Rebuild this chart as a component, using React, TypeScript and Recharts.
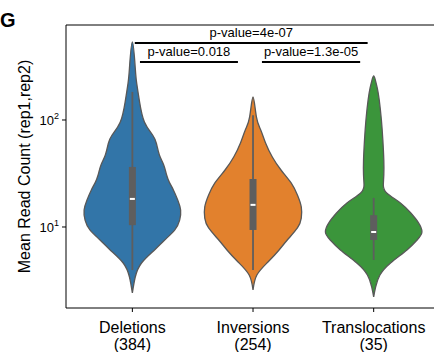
import React from 'react';
import { ComposedChart, Scatter, XAxis, YAxis, ReferenceLine } from 'recharts';

const categories = ['Deletions', 'Inversions', 'Translocations'];
const counts = [384, 254, 35];
const colors = ['#3275a8', '#e2812d', '#3b953b'];

// violin outlines: read count levels and relative density (1 = widest)
const deletionsLevels = [2.42, 3.41, 4.61, 6.1, 7.56, 9.4, 11.6, 14.4, 17.9, 22.2, 26, 30.6, 38, 47.1, 60, 72.4, 95.7, 147, 220, 306, 536];
const deletionsDensity = [0, 0.06, 0.19, 0.46, 0.67, 0.88, 0.98, 1, 0.94, 0.85, 0.77, 0.71, 0.65, 0.56, 0.5, 0.42, 0.25, 0.15, 0.09, 0.06, 0];
const inversionsLevels = [2.58, 3.56, 4.71, 6.1, 7.56, 9.79, 12.1, 15.4, 19.9, 25.8, 34.1, 45.1, 61, 80.7, 107, 164];
const inversionsDensity = [0, 0.08, 0.31, 0.54, 0.71, 0.92, 1, 1, 0.92, 0.79, 0.58, 0.4, 0.26, 0.16, 0.07, 0];
const translocationsLevels = [2.22, 2.75, 3.56, 4.61, 6.1, 7.56, 8.98, 11.1, 13.5, 16.7, 20.8, 24.7, 30.6, 42.3, 65, 100, 154, 198, 236, 258];
const translocationsDensity = [0, 0.04, 0.13, 0.35, 0.69, 0.9, 1, 0.92, 0.77, 0.56, 0.27, 0.2, 0.21, 0.21, 0.19, 0.16, 0.115, 0.075, 0.035, 0];

// inner box: whisker low, q1, median, q3, whisker high
const whiskerLow = [3.96, 3.96, 4.92];
const q1 = [10.4, 9.38, 7.56];
const medians = [18.3, 16.1, 8.98];
const q3 = [36.4, 28.1, 12.9];
const whiskerHigh = [183, 111, 18.7];

const comparisons = [
  { from: 0.02, to: 1.95, level: 524, label: 'p-value=4e-07' },
  { from: 0.063, to: 0.875, level: 348, label: 'p-value=0.018' },
  { from: 1.074, to: 1.888, level: 348, label: 'p-value=1.3e-05' },
];

const majorTicks = [10, 100];
const minorTicks = [2, 3, 4, 5, 6, 7, 8, 9, 20, 30, 40, 50, 60, 70, 80, 90, 200, 300, 400, 500, 600, 700];

const Y_MIN = 1.75;
const Y_MAX = 772;
const HALF = 0.4;
const EDGE = '#585858';
const BOX = '#5e5e5e';

const levels = [deletionsLevels, inversionsLevels, translocationsLevels];
const densities = [deletionsDensity, inversionsDensity, translocationsDensity];

const outline = (center: number, lv: number[], dens: number[]) => {
  const right = lv.map((v, i) => ({ x: center + dens[i] * HALF, y: v }));
  const left = lv.map((v, i) => ({ x: center - dens[i] * HALF, y: v })).reverse();
  return [...right, ...left.slice(1)];
};

const Hidden = () => <g />;

const XTick = (props: any) => {
  const { x, y, payload } = props;
  const i = payload.value;
  return (
    <text x={x} y={y} textAnchor="middle" fontSize={16} fill="#000">
      <tspan x={x} dy={19}>{categories[i]}</tspan>
      <tspan x={x} dy={17}>({counts[i]})</tspan>
    </text>
  );
};

const YTick = (props: any) => {
  const { x, y, payload } = props;
  const exp = Math.round(Math.log10(payload.value));
  return (
    <text x={x - 1} y={y + 4.6} textAnchor="end" fontSize={13} fill="#000">
      10<tspan dy={-6} fontSize={9}>{exp}</tspan>
    </text>
  );
};

const YLabel = (props: any) => {
  const { viewBox } = props;
  const cx = viewBox.x + 30;
  const cy = viewBox.y + viewBox.height / 2;
  return (
    <text x={cx} y={cy} transform={`rotate(-90, ${cx}, ${cy})`} textAnchor="middle" fontSize={16} fill="#000">
      Mean Read Count (rep1,rep2)
    </text>
  );
};

const Median = (props: any) => (
  <rect x={props.cx - 2.5} y={props.cy - 1} width={5} height={2} fill="#fff" />
);

export default function App() {
  return (
    <div style={{ position: 'absolute', left: 0, top: 0, width: 434, height: 352, overflow: 'hidden', fontFamily: "'Liberation Sans', Arial, sans-serif", background: '#fff' }}>
      <div style={{ position: 'absolute', left: 0, top: 10, fontSize: 20, lineHeight: '20px', fontWeight: 'bold' }}>G</div>
      <ComposedChart width={434} height={352} margin={{ top: 25, right: 0, bottom: 0, left: 0 }}>
        <XAxis
          dataKey="x"
          type="number"
          domain={[-0.55, 2.5]}
          allowDataOverflow
          ticks={[0, 1, 2]}
          interval={0}
          tickSize={4}
          height={44}
          stroke="#000"
          tickLine={{ stroke: '#000' }}
          axisLine={{ stroke: '#000' }}
          tick={<XTick />}
        />
        <YAxis
          yAxisId="minor"
          dataKey="y"
          type="number"
          scale="log"
          domain={[Y_MIN, Y_MAX]}
          allowDataOverflow
          ticks={minorTicks}
          interval={0}
          width={0}
          tickSize={2}
          axisLine={false}
          tickLine={{ stroke: '#000' }}
          tick={Hidden}
        />
        <YAxis
          yAxisId="major"
          dataKey="y"
          type="number"
          scale="log"
          domain={[Y_MIN, Y_MAX]}
          allowDataOverflow
          ticks={majorTicks}
          interval={0}
          width={66}
          tickSize={4}
          stroke="#000"
          tickLine={{ stroke: '#000' }}
          axisLine={{ stroke: '#000' }}
          tick={<YTick />}
          label={<YLabel />}
        />
        <ReferenceLine yAxisId="major" y={Y_MAX} stroke="#000" strokeWidth={1} ifOverflow="visible" />
        {categories.map((c, i) => (
          <Scatter
            key={`violin-${c}`}
            yAxisId="major"
            data={outline(i, levels[i], densities[i])}
            shape={Hidden}
            line={{ fill: colors[i], stroke: EDGE, strokeWidth: 1.3 }}
            lineJointType="natural"
            isAnimationActive={false}
          />
        ))}
        {categories.map((c, i) => (
          <Scatter
            key={`whisker-${c}`}
            yAxisId="major"
            data={[{ x: i, y: whiskerLow[i] }, { x: i, y: whiskerHigh[i] }]}
            shape={Hidden}
            line={{ stroke: BOX, strokeWidth: 1.8 }}
            lineJointType="linear"
            isAnimationActive={false}
          />
        ))}
        {categories.map((c, i) => (
          <Scatter
            key={`box-${c}`}
            yAxisId="major"
            data={[{ x: i, y: q1[i] }, { x: i, y: q3[i] }]}
            shape={Hidden}
            line={{ stroke: BOX, strokeWidth: 7 }}
            lineJointType="linear"
            isAnimationActive={false}
          />
        ))}
        {categories.map((c, i) => (
          <Scatter
            key={`median-${c}`}
            yAxisId="major"
            data={[{ x: i, y: medians[i] }]}
            shape={Median}
            isAnimationActive={false}
          />
        ))}
        {comparisons.map((b) => (
          <ReferenceLine
            key={b.label}
            yAxisId="major"
            segment={[{ x: b.from, y: b.level }, { x: b.to, y: b.level }]}
            stroke="#000"
            strokeWidth={2}
            ifOverflow="visible"
            label={{ value: b.label, position: 'top', offset: 6, fontSize: 13, fill: '#000' }}
          />
        ))}
      </ComposedChart>
    </div>
  );
}
